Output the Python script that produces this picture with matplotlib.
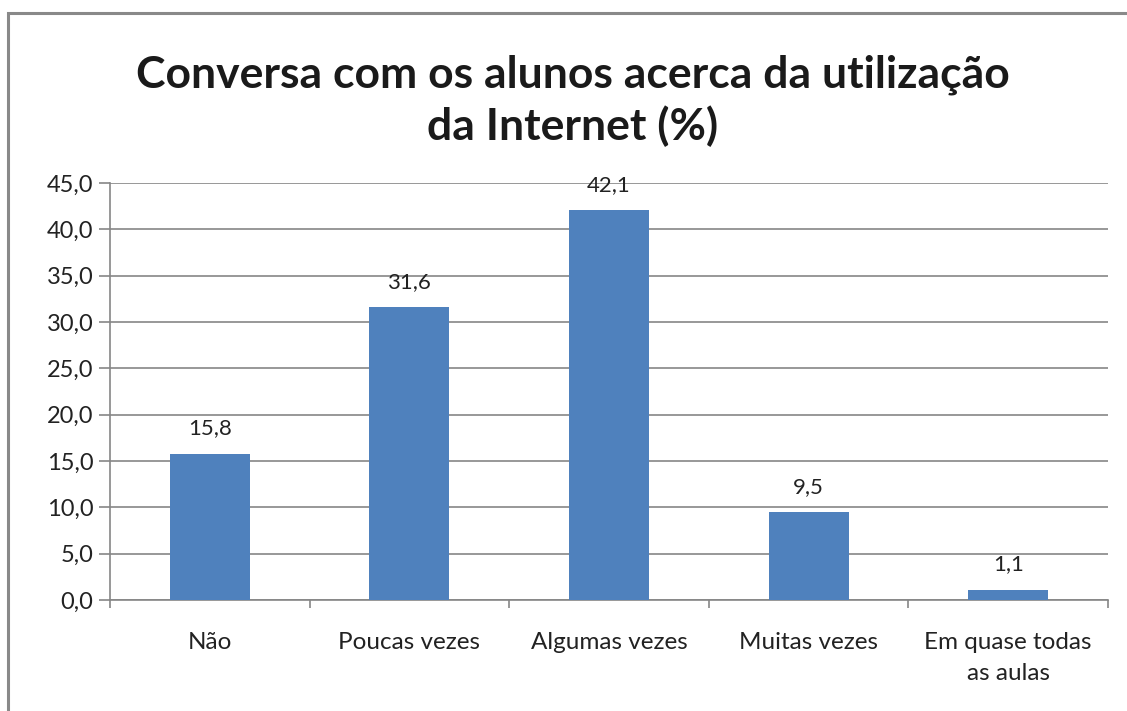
import matplotlib.pyplot as plt
from matplotlib.patches import Rectangle

categories = ['Não', 'Poucas vezes', 'Algumas vezes', 'Muitas vezes',
              'Em quase todas\nas aulas']
values = [15.8, 31.6, 42.1, 9.5, 1.1]
yticks = [0, 5, 10, 15, 20, 25, 30, 35, 40, 45]
title = 'Conversa com os alunos acerca da utilização\nda Internet (%)'

plt.rcParams['font.family'] = ['Lato', 'DejaVu Sans']
W, H = 1127, 711
fig = plt.figure(figsize=(W / 100, H / 100), dpi=100)

# chart border (cut at right and bottom as in the source)
fig.patches.append(Rectangle((8 / W, -0.1), 1.2, 1 - 13 / H + 0.1,
                             transform=fig.transFigure, fill=False,
                             edgecolor='#898989', linewidth=2.2))

ax = fig.add_axes([110 / W, 1 - 600 / H, (1108 - 110) / W, (600 - 183) / H])
x = list(range(len(categories)))
ax.bar(x, values, width=0.4, color='#4F81BD', zorder=3)
for xi, v in zip(x, values):
    ax.annotate(f'{v:.1f}'.replace('.', ','), (xi, v), xytext=(0, 11),
                textcoords='offset points', ha='center', va='bottom',
                fontsize=16, color='#222222')

ax.set_xlim(-0.5, len(categories) - 0.5)
ax.set_ylim(0, 45)
ax.set_yticks(yticks)
ax.set_yticklabels([f'{t:.1f}'.replace('.', ',') for t in yticks])
ax.grid(axis='y', color='#868686', linewidth=1.2, zorder=0)
ax.tick_params(axis='y', length=8, width=1.2, color='#868686',
               labelsize=17, labelcolor='#222222', pad=4)

# category labels between boundary ticks
ax.set_xticks([i - 0.5 for i in range(len(categories) + 1)])
ax.set_xticklabels([])
ax.tick_params(axis='x', length=6, width=1.2, color='#868686')
for xi, c in zip(x, categories):
    ax.text(xi, -3.5, c, ha='center', va='top', fontsize=17.5,
            color='#222222', linespacing=1.55,
            transform=ax.transData)

for s in ['top', 'right']:
    ax.spines[s].set_visible(False)
for s in ['left', 'bottom']:
    ax.spines[s].set_color('#868686')
    ax.spines[s].set_linewidth(1.2)

fig.text(573 / W, 1 - 101 / H, title, ha='center', va='center',
         fontsize=32, fontweight='bold', color='#1a1a1a', linespacing=1.3)

fig.savefig('out.png', dpi=100)
